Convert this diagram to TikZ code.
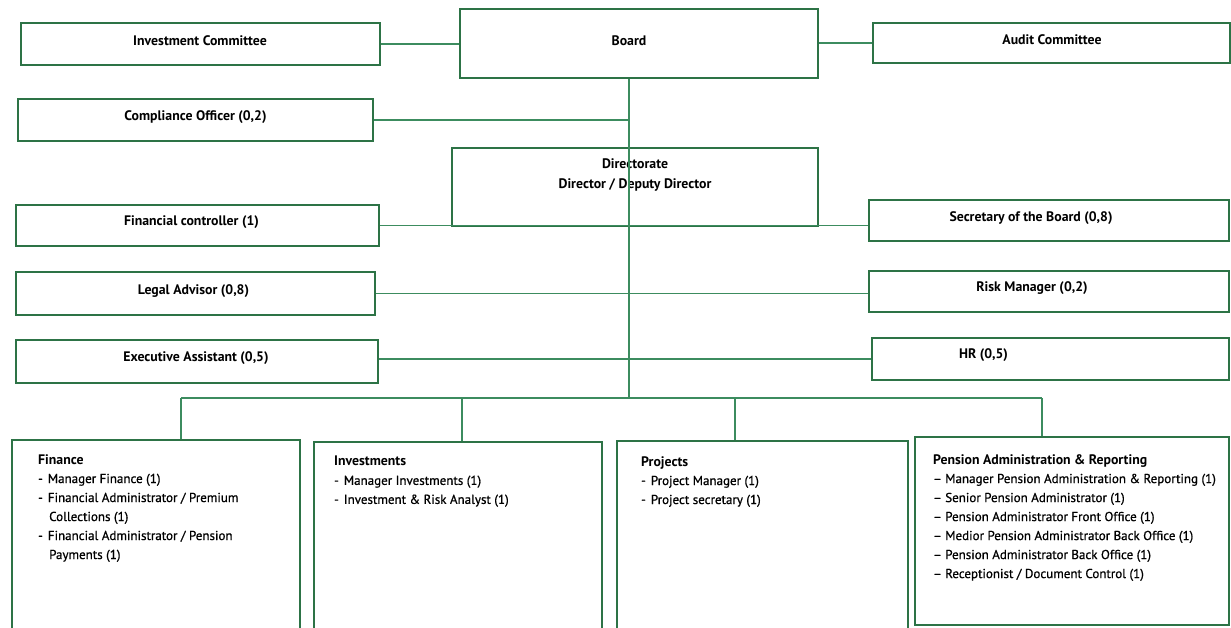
\documentclass[tikz,border=0pt]{standalone}
\usepackage{fontspec}
\setmainfont{PT Sans}
\newfontfamily\semifont[FakeBold=0.8,Ligatures=TeX]{PT Sans}
\usepackage{xcolor}
\usepackage{tikz}
\usetikzlibrary{positioning}

\definecolor{boxgreen}{RGB}{45,115,70}
\definecolor{linegreen}{RGB}{60,140,95}

\newcommand{\depthead}[1]{{\rmfamily\bfseries\fontsize{13.8}{19}\selectfont #1}}

\begin{document}
\begin{tikzpicture}[x=1pt,y=-1pt,font=\bfseries\fontsize{13.8}{20}\selectfont,
            box/.style={draw=boxgreen,line width=2.4pt,rectangle,inner sep=0pt},
            link/.style={draw=linegreen,line width=1.2pt},
            dept/.style={anchor=north west,align=left,inner sep=0pt,
              font=\semifont\fontsize{13}{19}\selectfont}]
        \useasboundingbox (0,0) rectangle (1231,628);

        % top row
        \node[box,minimum width=359pt,minimum height=42pt] (invc) at (200.5,44) {};
        \node[box,minimum width=358pt,minimum height=69pt] (board) at (639,43.5) {};
        \node[box,minimum width=357pt,minimum height=40pt] (audit) at (1051.5,43) {};
        \node at (200,41) {Investment Committee};
        \node at (629,41) {Board};
        \node at (1052,40) {Audit Committee};

        % staff left and right
        \node[box,minimum width=355pt,minimum height=42pt,
              label={[yshift=3pt]center:Compliance Officer (0,2)}] (comp) at (195.5,120) {};
        \node[box,minimum width=366pt,minimum height=78pt,
              label={[yshift=12pt,align=center]center:Directorate\\Director / Deputy Director}] (dir) at (635,187) {};
        \node[box,minimum width=363pt,minimum height=41pt,
              label={[yshift=3pt,xshift=-6pt]center:Financial controller (1)}] (fc) at (197.5,225.5) {};
        \node[box,minimum width=360pt,minimum height=41pt,
              label={[yshift=2pt,xshift=-18pt]center:Secretary of the Board (0,8)}] (sec) at (1049,220.5) {};
        \node[box,minimum width=359pt,minimum height=43pt,
              label={[yshift=2pt,xshift=-2pt]center:Legal Advisor (0,8)}] (legal) at (195.5,293.5) {};
        \node[box,minimum width=360pt,minimum height=41pt,
              label={[yshift=3pt,xshift=-17pt]center:Risk Manager (0,2)}] (risk) at (1049,291.5) {};
        \node[box,minimum width=362pt,minimum height=43pt,
              label={[yshift=3pt,xshift=-1pt]center:Executive Assistant (0,5)}] (exec) at (197,361.5) {};
        \node[box,minimum width=357pt,minimum height=42pt,
              label={[yshift=4pt,xshift=-67pt]center:HR (0,5)}] (hr) at (1050.5,359) {};

        % departments
        \node[box,minimum width=288pt,minimum height=190pt] (fin) at (156,535) {};
        \node[box,minimum width=288pt,minimum height=188pt] (inv) at (458,536) {};
        \node[box,minimum width=291pt,minimum height=189pt] (proj) at (762.5,535.5) {};
        \node[box,minimum width=314pt,minimum height=188pt] (pen) at (1072,531) {};

        \node[dept] (fintxt) at (38,454) {\depthead{Finance}\\
            -\hspace{5pt}Manager Finance (1)\\
            -\hspace{5pt}Financial Administrator / Premium\\
            \hspace*{11pt}Collections (1)\\
            -\hspace{5pt}Financial Administrator / Pension\\
            \hspace*{11pt}Payments (1)};
        \node[dept] (invtxt) at (334,456) {\depthead{Investments}\\
            -\hspace{5pt}Manager Investments (1)\\
            -\hspace{5pt}Investment \& Risk Analyst (1)};
        \node[dept] (projtxt) at (641,456) {\depthead{Projects}\\
            -\hspace{5pt}Project Manager (1)\\
            -\hspace{5pt}Project secretary (1)};
        \node[dept] (pentxt) at (933,454) {\depthead{Pension Administration \& Reporting}\\
            \textendash\ Manager Pension Administration \& Reporting (1)\\
            \textendash\ Senior Pension Administrator (1)\\
            \textendash\ Pension Administrator Front Office (1)\\
            \textendash\ Medior Pension Administrator Back Office (1)\\
            \textendash\ Pension Administrator Back Office (1)\\
            \textendash\ Receptionist / Document Control (1)};

        \coordinate (trunk) at (629,398);
        \coordinate (dfin) at (181,398);
        \coordinate (dinv) at (462,398);
        \coordinate (dproj) at (735,398);
        \coordinate (dpen) at (1042,398);

        \path[link] (invc.east) -- (invc.east -| board.west);
        \path[link] (board.east |- audit.west) -- (audit.west);
        \path[link] (trunk |- board.south) -- (trunk);
        \path[link] (comp.east) -- (comp.east -| trunk);
        \path[link] (fc.east) -- (fc.east -| sec.west);
        \path[link] (legal.east) -- (legal.east -| risk.west);
        \path[link] (hr.west -| exec.east) -- (hr.west);
        \path[link] (dfin) -- (dpen);
        \foreach \d/\b in {dfin/fin,dinv/inv,dproj/proj,dpen/pen}
            \path[link] (\d) -- (\d |- \b.north);
    \end{tikzpicture}
\end{document}
